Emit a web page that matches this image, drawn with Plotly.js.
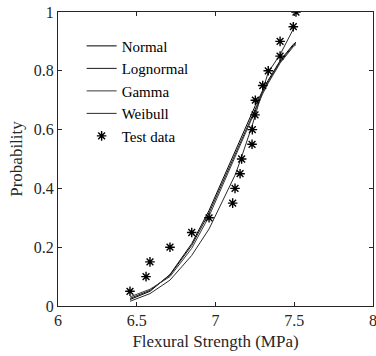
<!DOCTYPE html>
<html>
<head>
<meta charset="utf-8">
<script src="https://cdn.plot.ly/plotly-3.0.1.min.js"></script>
<style>html,body{margin:0;padding:0;background:#fff;}#chart{width:376px;height:356px;}</style>
</head>
<body>
<div id="chart"></div>
<script>
// Test data (flexural strength in MPa, cumulative probability)
var strength = [6.457, 6.559, 6.584, 6.711, 6.849, 6.959, 7.109, 7.124, 7.156, 7.166,
                7.232, 7.234, 7.251, 7.253, 7.300, 7.335, 7.410, 7.410, 7.494, 7.511];
var testProb = [0.05, 0.10, 0.15, 0.20, 0.25, 0.30, 0.35, 0.40, 0.45, 0.50,
                0.55, 0.60, 0.65, 0.70, 0.75, 0.80, 0.85, 0.90, 0.95, 1.00];

// Fitted CDF curves read at each test strength
var normalCdf    = [0.022, 0.043, 0.050, 0.107, 0.212, 0.325, 0.507, 0.526, 0.566, 0.578,
                    0.658, 0.660, 0.680, 0.682, 0.733, 0.768, 0.834, 0.834, 0.890, 0.897];
var lognormalCdf = [0.026, 0.046, 0.053, 0.105, 0.206, 0.316, 0.498, 0.517, 0.557, 0.569,
                    0.650, 0.652, 0.672, 0.674, 0.727, 0.762, 0.830, 0.830, 0.886, 0.893];
var gammaCdf     = [0.031, 0.050, 0.057, 0.100, 0.196, 0.305, 0.488, 0.507, 0.548, 0.561,
                    0.643, 0.645, 0.666, 0.668, 0.722, 0.758, 0.826, 0.826, 0.882, 0.889];
var weibullCdf   = [0.016, 0.036, 0.042, 0.088, 0.172, 0.262, 0.425, 0.445, 0.492, 0.507,
                    0.612, 0.616, 0.646, 0.650, 0.735, 0.795, 0.855, 0.855, 0.942, 0.952];

var names = ['Normal', 'Lognormal', 'Gamma', 'Weibull'];
var curves = [normalCdf, lognormalCdf, gammaCdf, weibullCdf];
var colors = ['#000000', '#1a1a1a', '#3a3a3a', '#2a2a2a'];

var traces = curves.map(function (c, i) {
  return {x: strength, y: c, name: names[i], type: 'scatter', mode: 'lines',
          line: {color: colors[i], width: 1}};
});
traces.push({x: strength, y: testProb, name: 'Test data', type: 'scatter', mode: 'markers',
             marker: {symbol: 'asterisk-open', size: 8, color: '#000', line: {color: '#000', width: 1.4}}});

var fam = 'Liberation Serif, Times New Roman, serif';
var font = {family: fam, size: 16, color: '#262626'};
var layout = {
  width: 376, height: 356,
  margin: {l: 58, r: 3, t: 12, b: 50},
  paper_bgcolor: '#fff', plot_bgcolor: '#fff',
  font: font,
  showlegend: true,
  legend: {x: 0.075, y: 0.94, xanchor: 'left', yanchor: 'top', bgcolor: 'rgba(0,0,0,0)',
           font: {family: fam, size: 15, color: '#000'}, tracegroupgap: 0},
  xaxis: {
    range: [6, 8], tickvals: [6, 6.5, 7, 7.5, 8], ticktext: ['6', '6.5', '7', '7.5', '8'],
    ticks: 'inside', ticklen: 4, tickcolor: '#262626', showline: true, linecolor: '#262626',
    linewidth: 1, mirror: 'ticks', showgrid: false, zeroline: false, ticklabeloverflow: 'allow',
    tickfont: {family: fam, size: 16, color: '#262626'},
    title: {text: 'Flexural Strength (MPa)', font: {family: fam, size: 17, color: '#262626'}, standoff: 6}
  },
  yaxis: {
    range: [0, 1], tickvals: [0, 0.2, 0.4, 0.6, 0.8, 1], ticktext: ['0', '0.2', '0.4', '0.6', '0.8', '1'],
    ticks: 'inside', ticklen: 4, tickcolor: '#262626', showline: true, linecolor: '#262626',
    linewidth: 1, mirror: 'ticks', showgrid: false, zeroline: false,
    tickfont: {family: fam, size: 16, color: '#262626'},
    title: {text: 'Probability', font: {family: fam, size: 17, color: '#262626'}, standoff: 6}
  }
};
Plotly.newPlot('chart', traces, layout, {staticPlot: true, displayModeBar: false});
</script>
</body>
</html>
